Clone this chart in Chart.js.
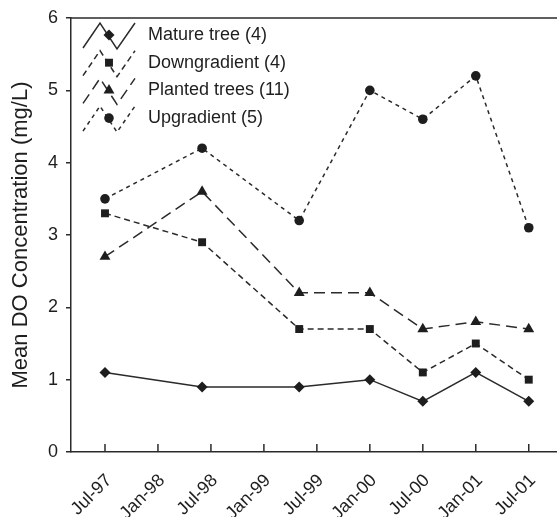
<!DOCTYPE html>
<html><head><meta charset="utf-8">
<script src="https://cdn.jsdelivr.net/npm/chart.js@4"></script>
<style>html,body{margin:0;padding:0;background:#fff}</style>
</head><body>
<canvas id="c" width="557" height="517"></canvas>
<script>
const tickLabels = ['Jul-97','Jan-98','Jul-98','Jan-99','Jul-99','Jan-00','Jul-00','Jan-01','Jul-01'];
const sampleMonths = [0, 11, 22, 30, 36, 42, 48]; // months after Jul-97
const matureTree   = [1.1, 0.9, 0.9, 1.0, 0.7, 1.1, 0.7];
const downgradient = [3.3, 2.9, 1.7, 1.7, 1.1, 1.5, 1.0];
const plantedTrees = [2.7, 3.6, 2.2, 2.2, 1.7, 1.8, 1.7];
const upgradient   = [3.5, 4.2, 3.2, 5.0, 4.6, 5.2, 3.1];
const seriesLabels = ['Mature tree (4)','Downgradient (4)','Planted trees (11)','Upgradient (5)'];
const yTicks = [0, 1, 2, 3, 4, 5, 6];

const FONT = '"Liberation Sans", Arial, Helvetica, sans-serif';
const INK = '#1e1e1e';
const LINE = '#2a2a2a';

const styles = [
  {dash: [], point: 'rectRot', r: 5.5},
  {dash: [6, 4], point: 'rect', r: 5.6},
  {dash: [11, 6], point: 'triangle', r: 6.3},
  {dash: [4, 4], point: 'circle', r: 4.8}
];
const seriesValues = [matureTree, downgradient, plantedTrees, upgradient];

const datasets = seriesValues.map((vals, i) => ({
  label: seriesLabels[i],
  data: vals.map((v, k) => ({x: sampleMonths[k], y: v})),
  borderColor: LINE,
  backgroundColor: INK,
  borderWidth: 1.5,
  borderDash: styles[i].dash,
  pointStyle: styles[i].point,
  pointRadius: styles[i].r,
  pointBorderWidth: 0,
  pointBackgroundColor: INK,
  tension: 0,
  clip: false
}));

const noPad = () => ({left: 0, top: 0, right: 0, bottom: 0});

const decor = {
  id: 'decor',
  afterDraw(chart) {
    const ctx = chart.ctx;
    const a = chart.chartArea;
    const xs = chart.scales.x;
    ctx.save();
    ctx.strokeStyle = LINE;
    ctx.lineWidth = 1.5;
    ctx.setLineDash([]);
    // top frame line
    ctx.beginPath();
    ctx.moveTo(a.left, a.top);
    ctx.lineTo(a.right, a.top);
    ctx.stroke();
    // inward x ticks
    tickLabels.forEach((_, i) => {
      const px = xs.getPixelForValue(i * 6);
      ctx.beginPath();
      ctx.moveTo(px, a.bottom);
      ctx.lineTo(px, a.bottom - 8);
      ctx.stroke();
    });
    // legend
    const rowY0 = 35, rowGap = 27.7;
    chart.data.datasets.forEach((ds, i) => {
      const y = rowY0 + i * rowGap;
      ctx.strokeStyle = LINE;
      ctx.lineWidth = 1.5;
      ctx.setLineDash(ds.borderDash || []);
      ctx.beginPath();
      ctx.moveTo(83, y + 13);
      ctx.lineTo(100, y - 12);
      ctx.lineTo(117, y + 14);
      ctx.lineTo(135, y - 12);
      ctx.stroke();
      ctx.setLineDash([]);
      ctx.fillStyle = INK;
      ctx.strokeStyle = INK;
      ctx.lineWidth = 0;
      ctx.beginPath();
      Chart.helpers.drawPoint(ctx, {pointStyle: ds.pointStyle, radius: ds.pointRadius, rotation: 0, borderWidth: 0}, 109, y);
      ctx.font = '18px ' + FONT;
      ctx.fillStyle = INK;
      ctx.textAlign = 'left';
      ctx.textBaseline = 'middle';
      ctx.fillText(ds.label, 148, y);
    });
    ctx.restore();
  }
};

new Chart(document.getElementById('c'), {
  type: 'line',
  data: {datasets},
  options: {
    responsive: false,
    animation: false,
    layout: {autoPadding: false, padding: {top: 18, right: 0, left: 0, bottom: 0}},
    plugins: {legend: {display: false}, tooltip: {enabled: false}},
    scales: {
      x: {
        type: 'linear',
        min: -3.85,
        max: 51.2,
        afterBuildTicks: s => { s.ticks = tickLabels.map((_, i) => ({value: i * 6})); },
        ticks: {
          callback: (v, i) => tickLabels[i],
          autoSkip: false,
          minRotation: 45,
          maxRotation: 45,
          font: {size: 18, family: FONT},
          color: INK,
          padding: 10,
          labelOffset: 4
        },
        grid: {display: false},
        border: {display: true, color: LINE, width: 1.5},
        afterFit: s => { s.height = 65; s.paddingRight = 0; s.paddingLeft = 0; s.getPadding = noPad; }
      },
      y: {
        min: 0,
        max: 6,
        afterBuildTicks: s => { s.ticks = yTicks.map(v => ({value: v})); },
        ticks: {font: {size: 18, family: FONT}, color: INK, padding: 8},
        grid: {display: true, drawOnChartArea: false, drawTicks: true, tickLength: 5, color: LINE, lineWidth: 1.5},
        border: {display: true, color: LINE, width: 1.5},
        title: {display: true, text: 'Mean DO Concentration (mg/L)', font: {size: 22, family: FONT}, color: INK, padding: {top: 8, bottom: 0}},
        afterFit: s => { s.width = 71; s.paddingTop = 0; s.paddingBottom = 0; s.getPadding = noPad; }
      }
    }
  },
  plugins: [decor]
});
</script>
</body></html>
